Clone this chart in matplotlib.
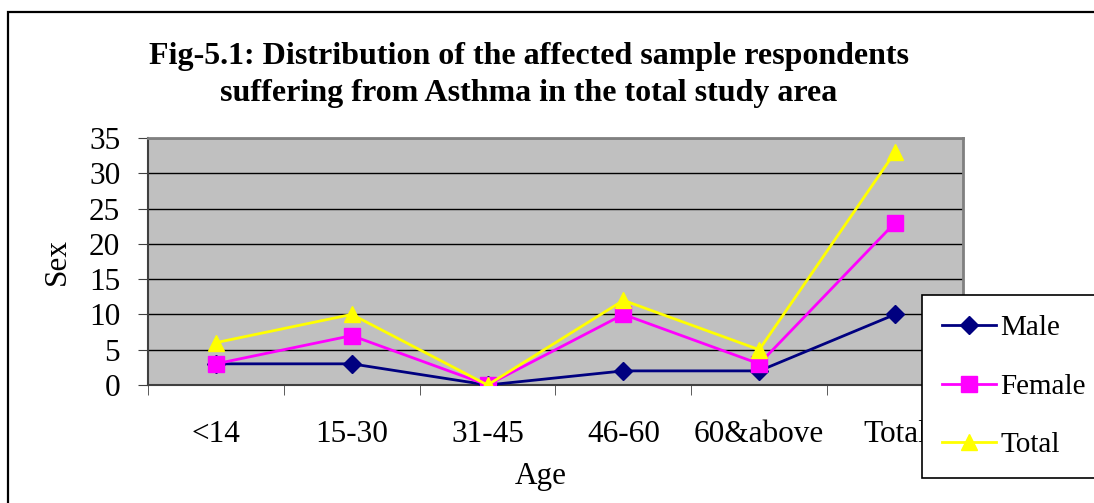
import matplotlib
matplotlib.use("Agg")
import matplotlib.pyplot as plt
from matplotlib.patches import Rectangle
import numpy as np

categories = ["<14", "15-30", "31-45", "46-60", "60&above", "Total"]
male = [3, 3, 0, 2, 2, 10]
female = [3, 7, 0, 10, 3, 23]
total = [6, 10, 0, 12, 5, 33]

W, H = 1094, 503
fig = plt.figure(figsize=(W / 100, H / 100), dpi=100)
plt.rcParams['font.family'] = ['Liberation Serif', 'DejaVu Serif']

# outer border
fig.patches.append(Rectangle((8 / W, -0.2), 1.2, 1 - 12 / H + 0.2, transform=fig.transFigure,
                             fill=False, edgecolor='black', linewidth=1.6, clip_on=False))

ax = fig.add_axes([148 / W, 1 - 385 / H, (963 - 148) / W, (385 - 138) / H])
ax.set_facecolor('#C0C0C0')
x = np.arange(len(categories))
ax.plot(x, male, color='#000080', marker='D', markersize=9, linewidth=2, label='Male', zorder=3)
ax.plot(x, female, color='#FF00FF', marker='s', markersize=11, linewidth=2, label='Female', zorder=3)
ax.plot(x, total, color='#FFFF00', marker='^', markersize=12, linewidth=2, label='Total', zorder=3)

ax.set_xlim(-0.5, len(categories) - 0.5)
ax.set_ylim(0, 35)
ax.set_yticks(np.arange(0, 36, 5))
ax.yaxis.grid(True, color='black', linewidth=1)
ax.set_axisbelow(True)
ax.set_xticks(x)
ax.set_xticklabels(categories, fontsize=22.5)
ax.set_xticks(np.arange(-0.5, len(categories), 1), minor=True)
ax.tick_params(axis='x', which='major', length=0, pad=25)
ax.tick_params(axis='x', which='minor', length=7, direction='out', color='#404040')
ax.tick_params(axis='y', labelsize=22.5, length=7, direction='out', pad=13, color='#404040')
for s in ['top', 'right']:
    ax.spines[s].set_color('#808080')
    ax.spines[s].set_linewidth(2)
ax.spines['left'].set_color('#404040')
ax.spines['bottom'].set_color('#404040')
ax.spines['left'].set_linewidth(1.5)
ax.spines['bottom'].set_linewidth(1.5)

ax.set_xlabel("Age", fontsize=22.5)
ax.xaxis.set_label_coords(0.482, -0.31)
ax.set_ylabel("Sex", fontsize=22.5, labelpad=12)

fig.text(529 / W, 1 - 75 / H, "Fig-5.1: Distribution of the affected sample respondents\nsuffering from Asthma in the total study area",
         ha='center', va='center', fontsize=23, fontweight='bold', linespacing=1.36)

leg = fig.legend(loc='upper left', bbox_to_anchor=(922 / W, 1 - 295 / H), fontsize=21,
                 frameon=True, fancybox=False, edgecolor='black', framealpha=1,
                 handlelength=1.85, handletextpad=0.15, labelspacing=1.1,
                 borderpad=0.68, borderaxespad=0)
leg.get_frame().set_linewidth(1.2)

fig.savefig("out.png", dpi=100)
